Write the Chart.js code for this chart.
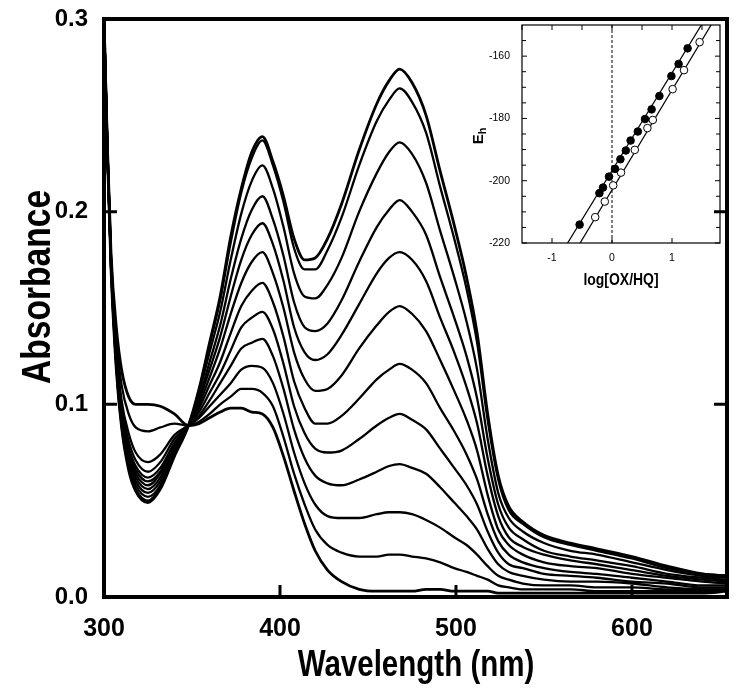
<!DOCTYPE html>
<html>
<head>
<meta charset="utf-8">
<script src="https://cdn.jsdelivr.net/npm/chart.js@4.4.0/dist/chart.umd.min.js"></script>
<style>
  html, body { margin: 0; padding: 0; background: #fff; }
  #wrap { position: relative; width: 739px; height: 693px; }
  #main { position: absolute; left: 0; top: 0; }
  #inset { position: absolute; left: 460px; top: 5px; }
</style>
</head>
<body>
<div id="wrap">
  <canvas id="main" width="739" height="693"></canvas>
  <canvas id="inset" width="272" height="290"></canvas>
</div>
<script>
// wavelength grid (nm) shared by all spectra
const wavelengths = [300, 302, 304, 307, 310, 314, 318, 325, 332, 340,
  348, 354, 360, 366, 372, 378, 384, 390, 396, 402,
  408, 414, 420, 427, 435, 445, 455, 462, 468, 475,
  483, 491, 499, 506, 512, 518, 524, 530, 538, 550,
  565, 580, 600, 620, 640, 654];

// absorbance of each scan, fully oxidised (scan01) down to fully reduced (scan12)
const scan01 = [.300, .228, .170, .118, .088, .066, .055, .049, .056, .073,
  .089, .108, .132, .156, .187, .212, .231, .239, .226, .208,
  .186, .175, .176, .186, .204, .232, .256, .268, .274, .267,
  .250, .221, .193, .166, .137, .095, .063, .047, .039, .032,
  .028, .025, .021, .016, .012, .011];
const scan02 = [.300, .228, .171, .119, .089, .067, .056, .050, .057, .074,
  .089, .107, .131, .154, .184, .210, .228, .237, .224, .205,
  .181, .170, .170, .180, .197, .224, .247, .258, .264, .257,
  .241, .213, .186, .160, .132, .092, .061, .045, .038, .031,
  .027, .024, .020, .015, .012, .011];
const scan03 = [.300, .229, .171, .120, .090, .068, .058, .052, .058, .075,
  .089, .106, .127, .148, .175, .199, .216, .224, .212, .192,
  .168, .156, .155, .162, .176, .200, .220, .231, .236, .230,
  .215, .190, .166, .143, .118, .082, .054, .041, .034, .028,
  .024, .022, .018, .014, .011, .010];
const scan04 = [.300, .229, .172, .121, .091, .070, .060, .054, .060, .076,
  .089, .103, .122, .141, .165, .186, .201, .208, .196, .177,
  .153, .140, .138, .142, .154, .174, .192, .201, .206, .200,
  .188, .166, .145, .125, .103, .072, .048, .036, .030, .024,
  .021, .019, .016, .012, .010, .009];
const scan05 = [.300, .229, .172, .122, .092, .072, .062, .056, .062, .077,
  .089, .102, .118, .135, .156, .175, .188, .194, .183, .164,
  .140, .127, .123, .126, .136, .152, .168, .176, .179, .175,
  .164, .145, .127, .109, .090, .063, .042, .031, .026, .022,
  .019, .017, .014, .011, .009, .008];
const scan06 = [.300, .230, .173, .123, .094, .074, .064, .058, .064, .078,
  .089, .100, .114, .129, .147, .163, .174, .179, .168, .150,
  .127, .113, .107, .108, .115, .129, .141, .148, .151, .147,
  .138, .123, .107, .092, .076, .053, .035, .027, .022, .018,
  .016, .015, .012, .010, .008, .007];
const scan07 = [.300, .230, .173, .124, .095, .076, .066, .060, .065, .079,
  .089, .098, .110, .122, .137, .151, .159, .163, .153, .135,
  .112, .098, .090, .090, .094, .103, .113, .118, .121, .118,
  .111, .098, .086, .074, .061, .043, .029, .022, .018, .015,
  .013, .012, .010, .008, .006, .006];
const scan08 = [.300, .230, .174, .125, .097, .078, .068, .062, .067, .080,
  .089, .096, .106, .116, .128, .140, .145, .148, .139, .121,
  .099, .085, .077, .075, .076, .082, .089, .093, .095, .092,
  .087, .077, .067, .058, .048, .034, .023, .017, .015, .012,
  .011, .010, .008, .007, .005, .005];
const scan09 = [.300, .231, .175, .127, .099, .081, .071, .065, .070, .082,
  .089, .094, .102, .111, .120, .129, .132, .134, .125, .108,
  .087, .072, .063, .059, .058, .061, .065, .068, .069, .067,
  .064, .057, .049, .042, .035, .025, .017, .013, .011, .009,
  .008, .008, .007, .005, .004, .004];
const scan10 = [.300, .231, .175, .129, .102, .085, .075, .070, .074, .084,
  .089, .093, .099, .105, .111, .118, .120, .119, .111, .095,
  .075, .059, .048, .042, .041, .041, .043, .044, .044, .043,
  .040, .036, .031, .027, .022, .016, .011, .009, .007, .006,
  .006, .005, .005, .004, .004, .004];
const scan11 = [.300, .232, .177, .134, .110, .095, .088, .086, .088, .090,
  .089, .091, .095, .100, .104, .108, .108, .106, .099, .083,
  .064, .048, .035, .027, .023, .021, .021, .022, .022, .021,
  .020, .018, .015, .013, .011, .009, .006, .005, .004, .004,
  .004, .003, .003, .003, .003, .003];
const scan12 = [.300, .232, .178, .140, .118, .104, .100, .100, .099, .095,
  .089, .090, .093, .096, .098, .098, .096, .095, .088, .073,
  .055, .038, .024, .014, .008, .004, .003, .003, .003, .003,
  .004, .004, .003, .003, .003, .003, .002, .002, .002, .002,
  .002, .002, .002, .002, .002, .003];
const scans = [scan01, scan02, scan03, scan04, scan05, scan06,
  scan07, scan08, scan09, scan10, scan11, scan12];

const xTicks = [300, 400, 500, 600];
const yTicks = [0, 0.1, 0.2, 0.3];

// inset: Nernst plot
const filledLogRatio = [-0.54, -0.21, -0.15, -0.05, 0.05, 0.14, 0.23, 0.31, 0.43, 0.55, 0.66, 0.79, 0.99, 1.11, 1.26];
const filledEh = [-214.1, -204.0, -202.2, -198.7, -196.2, -193.1, -190.3, -187.1, -184.2, -180.2, -177.1, -172.8, -166.4, -162.5, -157.5];
const openLogRatio = [-0.28, -0.12, 0.02, 0.15, 0.38, 0.59, 0.68, 1.01, 1.20, 1.46];
const openEh = [-211.7, -206.7, -201.5, -197.4, -190.1, -183.1, -180.5, -170.6, -164.5, -155.5];
const filledFitX = [-0.80, 1.55];
const filledFitY = [-221.9, -148.1];
const openFitX = [-0.60, 1.72];
const openFitY = [-222.2, -147.8];
const insetXTicks = [-1, 0, 1];
const insetXMinor = [-1.5, -1, -0.5, 0, 0.5, 1, 1.5];
const insetYTicks = [-220, -200, -180, -160];
const insetYMinor = [-215, -210, -205, -195, -190, -185, -175, -170, -165, -155];

const SANS = "'Liberation Sans', Arial, sans-serif";

// frame around the plot area plus inward tick marks
const framePlugin = {
  id: 'frame',
  afterDatasetsDraw(chart, args, o) {
    const {ctx, chartArea: a} = chart;
    const x = chart.scales.x, y = chart.scales.y;
    ctx.save();
    ctx.strokeStyle = '#000';
    o.marks.forEach(m => {
      ctx.lineWidth = m.width;
      ctx.beginPath();
      m.values.forEach(v => {
        if (m.side === 'bottom' || m.side === 'top') {
          const p = x.getPixelForValue(v);
          const e = m.side === 'bottom' ? a.bottom : a.top;
          ctx.moveTo(p, e);
          ctx.lineTo(p, m.side === 'bottom' ? e - m.len : e + m.len);
        } else {
          const p = y.getPixelForValue(v);
          const e = m.side === 'left' ? a.left : a.right;
          ctx.moveTo(e, p);
          ctx.lineTo(m.side === 'left' ? e + m.len : e - m.len, p);
        }
      });
      ctx.stroke();
    });
    ctx.lineWidth = o.frameWidth;
    ctx.strokeRect(a.left, a.top, a.right - a.left, a.bottom - a.top);
    ctx.restore();
  }
};

// axis titles drawn as plain canvas text (squeezed horizontally to mimic a narrow face)
const titlePlugin = {
  id: 'titles',
  afterDraw(chart, args, o) {
    const ctx = chart.ctx;
    ctx.save();
    ctx.fillStyle = '#000';
    ctx.textBaseline = 'middle';
    o.items.forEach(t => {
      ctx.save();
      ctx.translate(t.x, t.y);
      if (t.rotate) ctx.rotate(-Math.PI / 2);
      ctx.scale(t.squeeze || 1, 1);
      ctx.font = t.font;
      const w1 = ctx.measureText(t.text).width;
      let w2 = 0;
      if (t.sub) {
        ctx.font = t.subFont;
        w2 = ctx.measureText(t.sub).width;
      }
      const x0 = -(w1 + w2) / 2;
      ctx.textAlign = 'left';
      ctx.font = t.font;
      ctx.fillText(t.text, x0, 0);
      if (t.sub) {
        ctx.font = t.subFont;
        ctx.fillText(t.sub, x0 + w1, t.subShift);
      }
      ctx.restore();
    });
    ctx.restore();
  }
};

// keep the plot area exactly where the layout padding puts it
const noEdgePadding = s => {
  s.paddingTop = 0; s.paddingBottom = 0; s.paddingLeft = 0; s.paddingRight = 0;
};

new Chart(document.getElementById('main'), {
  type: 'line',
  data: {
    datasets: scans.map((s, k) => ({
      data: wavelengths.map((w, i) => ({x: w, y: s[i]})),
      borderColor: '#000',
      borderWidth: (k === 0 || k === scans.length - 1) ? 2.8 : 2.3,
      pointRadius: 0,
      fill: false,
      cubicInterpolationMode: 'monotone'
    }))
  },
  options: {
    responsive: false,
    animation: false,
    devicePixelRatio: 1,
    layout: {padding: {top: 19, right: 12, left: 0, bottom: 0}},
    plugins: {
      legend: {display: false},
      tooltip: {enabled: false},
      frame: {
        frameWidth: 4,
        marks: [
          {side: 'bottom', values: [400, 500, 600], len: 12, width: 3},
          {side: 'left', values: [0.1, 0.2], len: 13, width: 3},
          {side: 'right', values: [0.1, 0.2], len: 13, width: 3}
        ]
      },
      titles: {
        items: [
          {text: 'Absorbance', x: 39, y: 287, rotate: true, squeeze: 0.84, font: `bold 40px ${SANS}`},
          {text: 'Wavelength (nm)', x: 416, y: 666, squeeze: 0.82, font: `bold 36px ${SANS}`}
        ]
      }
    },
    scales: {
      x: {
        type: 'linear', min: 300, max: 654,
        grid: {display: false, drawTicks: false}, border: {display: false},
        afterFit: s => { s.height = 96; noEdgePadding(s); },
        afterBuildTicks: s => { s.ticks = xTicks.map(v => ({value: v})); },
        ticks: {color: '#000', padding: 17, autoSkip: false, maxRotation: 0,
          font: {family: SANS, size: 25, weight: 'bold'}}
      },
      y: {
        type: 'linear', min: 0, max: 0.3,
        grid: {display: false, drawTicks: false}, border: {display: false},
        afterFit: s => { s.width = 104; noEdgePadding(s); },
        afterBuildTicks: s => { s.ticks = yTicks.map(v => ({value: v})); },
        ticks: {color: '#000', padding: 16, callback: v => v.toFixed(1),
          font: {family: SANS, size: 24, weight: 'bold'}}
      }
    }
  },
  plugins: [framePlugin, titlePlugin]
});

new Chart(document.getElementById('inset'), {
  type: 'line',
  data: {
    datasets: [
      {data: filledLogRatio.map((v, i) => ({x: v, y: filledEh[i]})), showLine: false,
        pointRadius: 3.8, pointBackgroundColor: '#000', pointBorderColor: '#000', pointBorderWidth: 1},
      {data: openLogRatio.map((v, i) => ({x: v, y: openEh[i]})), showLine: false,
        pointRadius: 3.8, pointBackgroundColor: '#fff', pointBorderColor: '#000', pointBorderWidth: 1},
      {data: filledFitX.map((v, i) => ({x: v, y: filledFitY[i]})), borderColor: '#000', borderWidth: 1.2, pointRadius: 0},
      {data: openFitX.map((v, i) => ({x: v, y: openFitY[i]})), borderColor: '#000', borderWidth: 1.2, pointRadius: 0},
      {data: [{x: 0, y: -220}, {x: 0, y: -150}], borderColor: '#000', borderWidth: 1, borderDash: [3, 2], pointRadius: 0}
    ]
  },
  options: {
    responsive: false,
    animation: false,
    devicePixelRatio: 1,
    layout: {padding: {top: 20, right: 12, left: 0, bottom: 0}},
    plugins: {
      legend: {display: false},
      tooltip: {enabled: false},
      frame: {
        frameWidth: 1.2,
        marks: [
          {side: 'bottom', values: insetXTicks, len: 5, width: 1},
          {side: 'top', values: insetXMinor, len: 5, width: 1},
          {side: 'left', values: insetYMinor, len: 4, width: 1},
          {side: 'left', values: insetYTicks, len: 5, width: 1},
          {side: 'right', values: insetYMinor, len: 4, width: 1},
          {side: 'right', values: insetYTicks, len: 5, width: 1}
        ]
      },
      titles: {
        items: [
          {text: 'E', sub: 'h', x: 19, y: 131, rotate: true, font: `bold 15px ${SANS}`,
            subFont: `bold 11px ${SANS}`, subShift: 4},
          {text: 'log[OX/HQ]', x: 161, y: 275, squeeze: 0.82, font: `bold 17px ${SANS}`}
        ]
      }
    },
    scales: {
      x: {
        type: 'linear', min: -1.5, max: 1.8,
        grid: {display: false, drawTicks: false}, border: {display: false},
        afterFit: s => { s.height = 52; noEdgePadding(s); },
        afterBuildTicks: s => { s.ticks = insetXTicks.map(v => ({value: v})); },
        ticks: {color: '#000', padding: 9, autoSkip: false, maxRotation: 0, callback: v => String(v),
          font: {family: SANS, size: 10.5}}
      },
      y: {
        type: 'linear', min: -220, max: -150,
        grid: {display: false, drawTicks: false}, border: {display: false},
        afterFit: s => { s.width = 62; noEdgePadding(s); },
        afterBuildTicks: s => { s.ticks = insetYTicks.map(v => ({value: v})); },
        ticks: {color: '#000', padding: 12, callback: v => String(v),
          font: {family: SANS, size: 10.5}}
      }
    }
  },
  plugins: [framePlugin, titlePlugin]
});
</script>
</body>
</html>
